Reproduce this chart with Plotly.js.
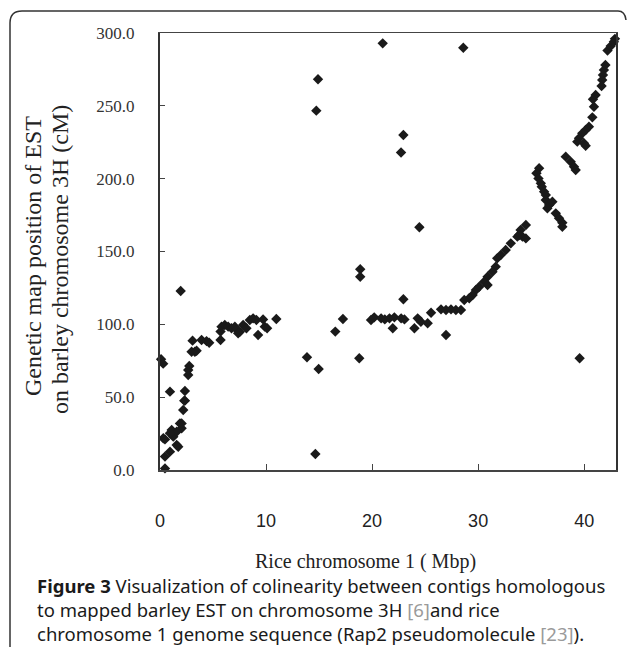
<!DOCTYPE html>
<html>
<head>
<meta charset="utf-8">
<script src="https://cdn.plot.ly/plotly-3.0.1.min.js"></script>
<style>html,body{margin:0;padding:0;background:#fff;} #chart{width:627px;height:647px;}</style>
</head>
<body>
<div id="chart"></div>
<script>
// Rice chromosome 1 position (Mbp)
const riceMbp = [
  0.1, 0.3, 1.95, 0.94, 0.47, 0.47, 0.94, 0.47, 1.1, 1.25, 1.57, 1.72, 1.88, 2.04, 2.19, 2.29, 2.35,
  2.66, 2.66, 2.76, 2.98, 3.29, 3.45, 3.07, 3.92, 4.39, 4.64, 5.71, 5.71, 5.8, 6.11, 6.43,
  6.74, 7.06, 7.27, 7.53, 7.37, 7.84, 8.15, 8.47, 8.78, 9.09, 9.25, 9.72, 9.88, 10.1, 10.97,
  0.31, 1.57, 2.04, 2.35, 0.94,
  13.86, 18.88, 18.88, 22.95, 17.25, 16.53, 14.96, 18.79, 14.65,
  19.9, 20.2, 20.85, 21.2, 21.64, 22.1, 22.74, 23.05, 21.95,
  23.99, 24.3, 24.6, 25.24, 25.56, 26.97, 26.5, 26.97, 27.44, 27.9,
  21.0, 14.9, 14.74, 22.95, 22.73, 24.46, 28.6,
  42.2, 42.5, 42.8, 42.9, 42.0, 41.86, 41.77, 41.7, 41.64,
  41.08, 40.83, 40.92, 40.77, 40.45, 40.14, 39.82, 39.51, 39.35, 39.98, 40.14,
  38.26, 38.73, 39.04, 39.2,
  35.75, 35.5, 35.69, 35.91, 36.0, 36.22, 36.38, 36.38, 36.69, 36.53, 37.0,
  37.32, 37.63, 37.94, 37.94,
  34.5, 34.0, 33.87, 34.18, 34.5, 33.7,
  33.08, 32.6, 32.13, 31.8, 31.66, 31.35,
  30.89, 30.57, 30.89, 30.1, 29.79, 29.48, 29.16, 28.69, 28.38,
  39.57
];
// Genetic map position on barley chromosome 3H (cM)
const barleyCM = [
  76, 73, 122.9, 53.8, 21, 9.2, 12.6, 1.1, 27.5, 22.9, 17.2, 16, 32, 28.6, 41.2, 47.6, 54.2,
  65.2, 68.6, 71.4, 81.2, 81.2, 81.9, 88.8, 89.2, 88.5, 87.4, 89.2, 95, 98.4, 99.5, 98.4,
  97.3, 98.4, 96.1, 94.9, 93.8, 99.5, 97.3, 103, 104.1, 103, 92.7, 103.4, 98.4, 97.3, 103.7,
  21.8, 26.3, 32, 47.6, 25.2,
  77.4, 137.8, 132.7, 117.2, 103.7, 95, 69.3, 76.7, 11,
  103, 104.8, 104.1, 103.4, 104.1, 104.8, 104.1, 103.4, 97.3,
  97.3, 104.1, 101.8, 100.7, 108, 92.7, 110.3, 109.8, 110.3, 109.8,
  292.9, 268.2, 246.7, 230, 218, 166.6, 289.9,
  288, 291, 294, 296, 278, 274.6, 271.2, 267.7, 263.6,
  257.4, 254.5, 249.4, 242.1, 235.7, 233.4, 231.1, 227.7, 225.4, 224.3, 222.6,
  215.1, 211.6, 208.2, 206,
  207.1, 203.7, 200.2, 196.8, 194.5, 191.1, 188.8, 185.4, 181.9, 179.7, 184.2,
  176.2, 172.8, 169.8, 167,
  168.2, 164.8, 161.3, 160.2, 159, 160.2,
  155.6, 151, 147.6, 145.3, 139.6, 136.1,
  132.7, 129.3, 127, 125.8, 123.6, 120.1, 117.9, 116.7, 109.8,
  76.7
];
const xTicks = [0, 10, 20, 30, 40];
const yTicks = [0, 50, 100, 150, 200, 250, 300];

const xTitle = 'Rice chromosome 1 ( Mbp)';
const yTitle1 = 'Genetic map position of EST';
const yTitle2 = 'on barley chromosome 3H (cM)';
const captionLines = [
  '<b>Figure 3</b> Visualization of colinearity between contigs homologous',
  'to mapped barley EST on chromosome 3H <span style="color:#9a9a9a">[6]</span>and rice',
  'chromosome 1 genome sequence (Rap2 pseudomolecule <span style="color:#9a9a9a">[23]</span>).'
];

// pixel helpers for placing annotations relative to the plot area
const L = 160, R = 11, T = 33, B = 177, W = 627, H = 647;
const pw = W - L - R, ph = H - T - B;
const px = v => (v - L) / pw;
const py = v => (H - B - v) / ph;

const trace = {
  x: riceMbp, y: barleyCM, type: 'scatter', mode: 'markers',
  marker: {symbol: 'diamond', size: 8, color: '#1a1a1a'},
  cliponaxis: false, hoverinfo: 'x+y'
};

const serif = 'Liberation Serif, Times New Roman, serif';
const sans = 'Noto Sans, Open Sans, sans-serif';

const layout = {
  width: W, height: H,
  margin: {l: L, r: R, t: T, b: B},
  paper_bgcolor: '#fff', plot_bgcolor: '#fff',
  showlegend: false,
  xaxis: {
    range: [0, 43], tickvals: xTicks, ticktext: xTicks.map(String),
    ticks: 'inside', ticklen: 6, tickcolor: '#444', tickwidth: 1,
    showline: true, linecolor: '#444', linewidth: 1.5, mirror: true,
    showgrid: false, zeroline: false,
    tickfont: {family: 'Liberation Sans, Arial, sans-serif', size: 18, color: '#222'},
    ticklabelstandoff: 34
  },
  yaxis: {
    range: [0, 300], tickvals: yTicks, ticktext: yTicks.map(v => v.toFixed(1)),
    ticks: 'inside', ticklen: 5, tickcolor: '#444', tickwidth: 1,
    showline: true, linecolor: '#333', linewidth: 2, mirror: true,
    showgrid: false, zeroline: false,
    tickfont: {family: serif, size: 17, color: '#333'},
    ticklabelstandoff: 20
  },
  annotations: [
    {text: xTitle, xref: 'paper', yref: 'paper', x: px(365), y: py(561), showarrow: false,
     xanchor: 'center', yanchor: 'middle', font: {family: serif, size: 20, color: '#222'}},
    {text: yTitle1, xref: 'paper', yref: 'paper', x: px(33), y: py(256), showarrow: false,
     textangle: -90, xanchor: 'center', yanchor: 'middle', font: {family: serif, size: 24, color: '#222'}},
    {text: yTitle2, xref: 'paper', yref: 'paper', x: px(60), y: py(260), showarrow: false,
     textangle: -90, xanchor: 'center', yanchor: 'middle', font: {family: serif, size: 24, color: '#222'}},
    {text: captionLines.join('<br>'), xref: 'paper', yref: 'paper', x: px(35), y: py(609), showarrow: false,
     xanchor: 'left', yanchor: 'middle', align: 'left', font: {family: sans, size: 18.5, color: '#1a1a1a'}}
  ],
  shapes: [
    {type: 'path', xref: 'paper', yref: 'paper', layer: 'above',
     path: `M ${px(10)},${py(647)} L ${px(10)},${py(23)} Q ${px(10)},${py(11)} ${px(22)},${py(11)} ` +
           `L ${px(618)},${py(11)} Q ${px(625)},${py(11)} ${px(626)},${py(20)}`,
     line: {color: '#333', width: 1.5}}
  ]
};

Plotly.newPlot('chart', [trace], layout, {displayModeBar: false, staticPlot: true});
</script>
</body>
</html>
